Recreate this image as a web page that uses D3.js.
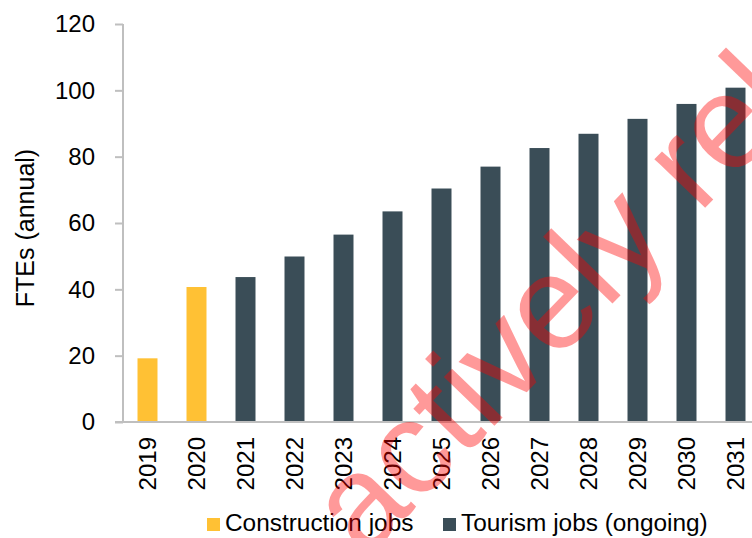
<!DOCTYPE html>
<html>
<head>
<meta charset="utf-8">
<script src="https://cdn.jsdelivr.net/npm/d3@7/dist/d3.min.js"></script>
<style>
  html, body { margin: 0; padding: 0; background: #fff; }
  svg { display: block; font-family: "Liberation Sans", Arial, sans-serif; }
</style>
</head>
<body>
<svg id="chart" width="752" height="538"></svg>
<script>
const years = ["2019","2020","2021","2022","2023","2024","2025","2026","2027","2028","2029","2030","2031"];
const constructionJobs = [19.2, 40.7, null, null, null, null, null, null, null, null, null, null, null];
const tourismJobs = [null, null, 43.7, 49.9, 56.5, 63.5, 70.4, 77.0, 82.6, 86.9, 91.4, 95.9, 100.8];
const yTicks = [0, 20, 40, 60, 80, 100, 120];
const seriesNames = ["Construction jobs", "Tourism jobs (ongoing)"];
const seriesColors = ["#FFC134", "#3A4D57"];
const yLabel = "FTEs (annual)";
const watermark = "actively rel";

const svg = d3.select("#chart");
const axisColor = "#BFBFBF";

const x = d3.scaleBand().domain(years).range([123, 760]).paddingInner(0.592).paddingOuter(0.296);
const y = d3.scaleLinear().domain([0, 120]).range([422, 24]);

// bars
const rows = years.map((yr, i) => ({ yr, c: constructionJobs[i], t: tourismJobs[i] }));
svg.append("g").selectAll("rect.c").data(rows.filter(d => d.c != null)).join("rect")
  .attr("x", d => x(d.yr)).attr("width", x.bandwidth())
  .attr("y", d => y(d.c)).attr("height", d => y(0) - y(d.c))
  .attr("fill", seriesColors[0]);
svg.append("g").selectAll("rect.t").data(rows.filter(d => d.t != null)).join("rect")
  .attr("x", d => x(d.yr)).attr("width", x.bandwidth())
  .attr("y", d => y(d.t)).attr("height", d => y(0) - y(d.t))
  .attr("fill", seriesColors[1]);

// y axis
const yAxis = svg.append("g").attr("transform", "translate(123,0)")
  .call(d3.axisLeft(y).tickValues(yTicks).tickSize(8).tickPadding(20).tickFormat(d3.format("d")));
yAxis.select(".domain").attr("stroke", axisColor).attr("stroke-width", 2).attr("d", `M0,${y(120)}V${y(0)}`);
yAxis.selectAll(".tick line").attr("stroke", axisColor).attr("stroke-width", 2);
yAxis.selectAll(".tick text").attr("fill", "#000").style("font-size", "24px").style("font-family", "'Liberation Sans', Arial, sans-serif");

// x axis
const xAxis = svg.append("g").attr("transform", `translate(0,${y(0)})`)
  .call(d3.axisBottom(x).tickSize(0).tickPadding(0));
xAxis.select(".domain").attr("stroke", axisColor).attr("stroke-width", 2).attr("d", "M115,0H752");
xAxis.selectAll(".tick text")
  .attr("fill", "#000")
  .style("font-size", "24px").style("font-family", "'Liberation Sans', Arial, sans-serif")
  .attr("text-anchor", "end")
  .attr("transform", "translate(0,15) rotate(-90)")
  .attr("x", 0).attr("y", 0).attr("dy", "0.35em");

// y label
svg.append("text").attr("transform", "translate(25,228) rotate(-90)")
  .attr("text-anchor", "middle").attr("dy", "0.35em")
  .style("font-size", "25px").attr("fill", "#000").text(yLabel);

// legend
const legendX = [207, 443];
seriesNames.forEach((name, i) => {
  svg.append("rect").attr("x", legendX[i]).attr("y", 518).attr("width", 13).attr("height", 13).attr("fill", seriesColors[i]);
  svg.append("text").attr("x", legendX[i] + 18).attr("y", 531).style("font-size", "24.4px").attr("fill", "#000").text(name);
});

// watermark
svg.append("text").attr("transform", "translate(365,560) rotate(-46)")
  .style("font-size", "133px").attr("fill", "rgba(255,0,0,0.4)").text(watermark);
</script>
</body>
</html>
